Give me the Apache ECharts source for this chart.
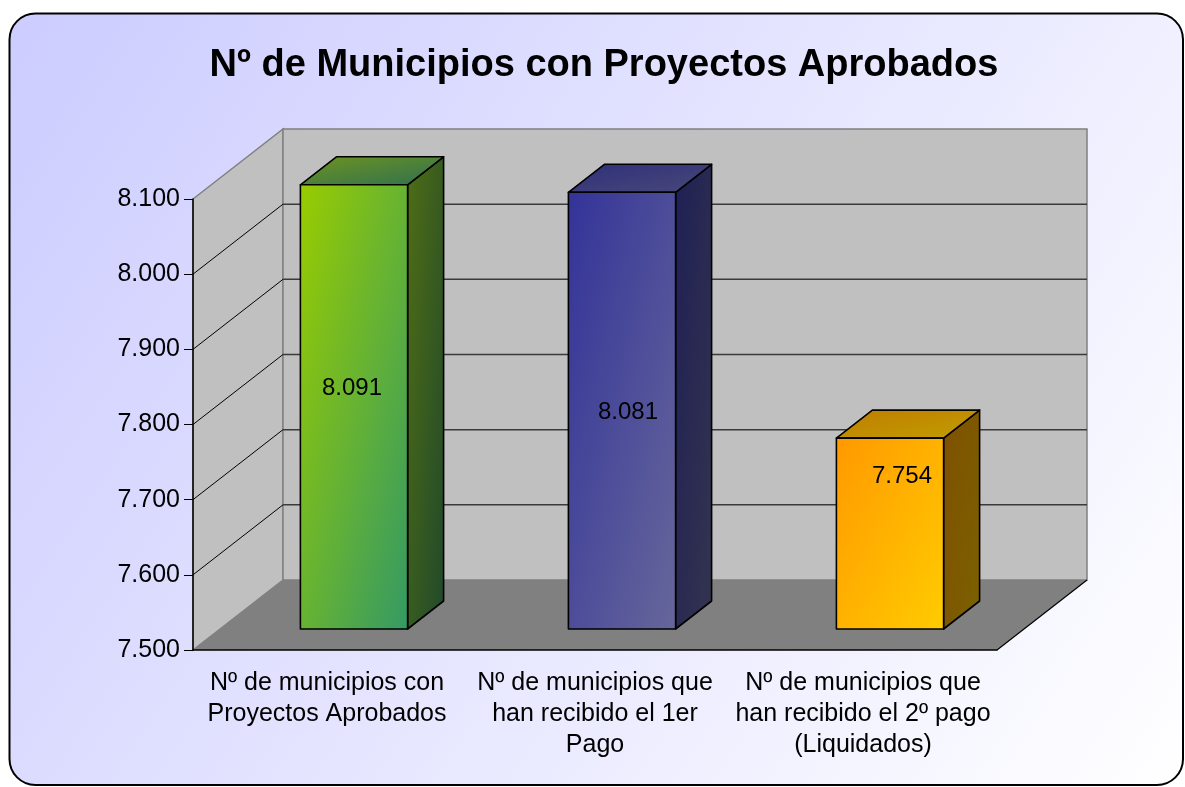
<!DOCTYPE html>
<html>
<head>
<meta charset="utf-8">
<script src="https://cdn.jsdelivr.net/npm/echarts@6/dist/echarts.min.js"></script>
<style>
  html, body { margin: 0; padding: 0; background: #fff; }
  #chart { width: 1185px; height: 787px; }
</style>
</head>
<body>
<div id="chart"></div>
<script>
// datos
const categorias = [
  "Nº de municipios con\nProyectos Aprobados",
  "Nº de municipios que\nhan recibido el 1er\nPago",
  "Nº de municipios que\nhan recibido el 2º pago\n(Liquidados)",
];
const municipios = [8091, 8081, 7754];
const ticksY = [7500, 7600, 7700, 7800, 7900, 8000, 8100];

// efecto 3D (px)
const DX = 90, DY = -70;
const FRENTE = 0.3, GROSOR = 0.4;
const FONT = "'Liberation Sans', Arial, sans-serif";

// colores: frente, tapa, lateral (inicio -> fin del degradado)
const colores = [
  { f: ["#99cc00", "#339966"], t: ["#6f9420", "#2c6f52"], s: ["#4f6e14", "#1f472c"] },
  { f: ["#333399", "#67679b"], t: ["#2f2f7c", "#4a4a78"], s: ["#1f1f55", "#35354f"] },
  { f: ["#ff9900", "#ffcc00"], t: ["#c07c00", "#c0a000"], s: ["#805000", "#7a6200"] },
];
// desplazamiento de las etiquetas de valor respecto al centro de la cara
const etiquetaShift = [[-2, -19], [6, 2], [12, -57]];

const fmt = (v) => String(v).replace(/\B(?=(\d{3})+$)/g, ".");

// degradado diagonal "tipo Excel": esquinas sup-der e inf-izq con el mismo color
const grad = (c, w, h) => {
  const k = h * h + w * w;
  return {
    type: "linear", x: 0, y: 0, x2: (2 * h * h) / k, y2: (2 * w * w) / k,
    colorStops: [{ offset: 0, color: c[0] }, { offset: 1, color: c[1] }],
  };
};

function renderParedes(params, api) {
  const cs = params.coordSys;
  const x0 = cs.x, x1 = cs.x + cs.width, y0 = cs.y, y1 = cs.y + cs.height;
  const children = [
    // pared lateral
    { type: "polygon", shape: { points: [[x0, y0], [x0 + DX, y0 + DY], [x0 + DX, y1 + DY], [x0, y1]] },
      style: { fill: "#c0c0c0", stroke: "#808080", lineWidth: 1.5 } },
    // pared del fondo
    { type: "rect", shape: { x: x0 + DX, y: y0 + DY, width: cs.width, height: cs.height },
      style: { fill: "#c0c0c0", stroke: "#808080", lineWidth: 1.5 } },
    // suelo
    { type: "polygon", shape: { points: [[x0, y1], [x1, y1], [x1 + DX, y1 + DY], [x0 + DX, y1 + DY]] },
      style: { fill: "#808080" } },
    { type: "line", shape: { x1: x1, y1: y1, x2: x1 + DX, y2: y1 + DY },
      style: { stroke: "#000", lineWidth: 1.2 } },
  ];
  ticksY.slice(1, -1).forEach((v) => {
    const y = api.coord([0, v])[1];
    children.push({ type: "line", shape: { x1: x0 + DX, y1: y + DY, x2: x1 + DX, y2: y + DY },
      style: { stroke: "#3a3a3a", lineWidth: 1.5 } });
    children.push({ type: "line", shape: { x1: x0, y1: y, x2: x0 + DX, y2: y + DY },
      style: { stroke: "#000", lineWidth: 1 } });
  });
  return { type: "group", children };
}

function renderBarra(params, api) {
  const i = api.value(0), v = api.value(1);
  const base = api.coord([i, ticksY[0]]);
  const top = api.coord([i, v]);
  const w = api.size([1, 0])[0] * 0.4;
  const bx = GROSOR * DX, by = GROSOR * DY;
  const l = base[0] - w / 2 + FRENTE * DX, r = l + w;
  const t = top[1] + FRENTE * DY, b = base[1] + FRENTE * DY;
  const h = b - t;
  const c = colores[i];
  const borde = { stroke: "#000", lineWidth: 1.6, lineJoin: "round" };
  return {
    type: "group",
    children: [
      { type: "polygon", shape: { points: [[r, t], [r + bx, t + by], [r + bx, b + by], [r, b]] },
        style: Object.assign({ fill: grad(c.s, bx, h - by) }, borde) },
      { type: "polygon", shape: { points: [[l, t], [r, t], [r + bx, t + by], [l + bx, t + by]] },
        style: Object.assign({ fill: grad(c.t, w + bx, -by) }, borde) },
      { type: "rect", shape: { x: l, y: t, width: w, height: h },
        style: Object.assign({ fill: grad(c.f, w, h) }, borde) },
      { type: "text", style: { text: fmt(v), x: (l + r) / 2 + etiquetaShift[i][0], y: (t + b) / 2 + etiquetaShift[i][1],
        align: "center", verticalAlign: "middle", font: "24px " + FONT, fill: "#000" } },
    ],
  };
}

const chart = echarts.init(document.getElementById("chart"));
chart.setOption({
  animation: false,
  graphic: [{
    type: "rect", z: -10,
    shape: { x: 9.5, y: 13.5, width: 1173.5, height: 771.5, r: 26 },
    style: {
      fill: { type: "linear", x: 0, y: 0, x2: 1, y2: 1,
        colorStops: [{ offset: 0, color: "#ccccff" }, { offset: 1, color: "#ffffff" }] },
      stroke: "#000", lineWidth: 2,
    },
  }],
  title: {
    text: "Nº de Municipios con Proyectos Aprobados",
    left: 599, top: 42, textAlign: "center",
    textStyle: { fontFamily: FONT, fontSize: 38, fontWeight: "bold", color: "#000" },
  },
  grid: { left: 193, right: 188, top: 199, bottom: 137 },
  xAxis: {
    type: "category", data: categorias, z: 5,
    axisLine: { lineStyle: { color: "#000", width: 1.5 } },
    axisTick: { length: 7, lineStyle: { color: "#000" } },
    axisLabel: { fontFamily: FONT, fontSize: 25, color: "#000", lineHeight: 31, margin: 18, interval: 0 },
  },
  yAxis: {
    type: "value", min: 7500, max: 8100, interval: 100, z: 5,
    axisLine: { show: true, lineStyle: { color: "#000", width: 1.5 } },
    axisTick: { show: true, length: 9, lineStyle: { color: "#000" } },
    splitLine: { show: false },
    axisLabel: { fontFamily: FONT, fontSize: 25, color: "#000", margin: 13, formatter: fmt },
  },
  series: [
    { type: "custom", z: 1, renderItem: renderParedes, data: [[0, ticksY[0]]], silent: true },
    { type: "custom", z: 2, renderItem: renderBarra, encode: { x: 0, y: 1 },
      data: municipios.map((v, i) => [i, v]) },
  ],
});
</script>
</body>
</html>
